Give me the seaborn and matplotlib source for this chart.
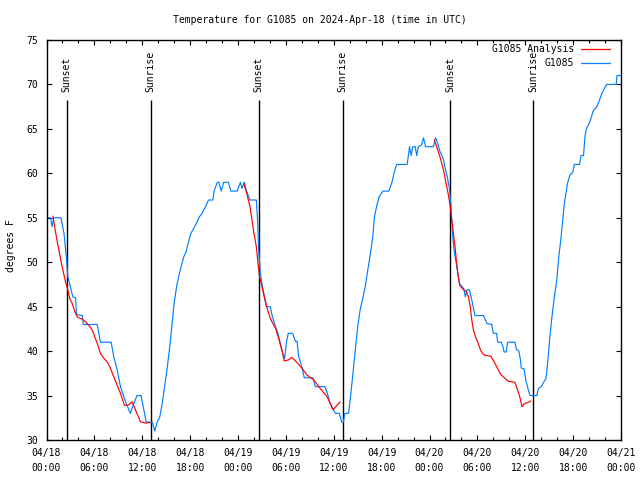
import matplotlib
matplotlib.use("Agg")
import matplotlib.pyplot as plt
import matplotlib.dates as mdates
from matplotlib.lines import Line2D
import seaborn as sns
import pandas as pd
import numpy as np

# ---------------- data ----------------
title = "Temperature for G1085 on 2024-Apr-18 (time in UTC)"
ylabel = "degrees F"
start = "2024-04-18 00:00"

# observed G1085 (hours since start, degrees F)
obs_hours = [0.0, 0.5, 0.7, 0.9, 1.8, 2.2, 2.5, 2.67, 3.0, 3.3, 3.65, 3.76, 4.5, 4.6, 6.35, 6.76,
             8.1, 8.43, 8.85, 9.27, 9.68, 10.0, 10.5, 10.9, 11.35, 11.85, 12.2, 12.5, 13.27, 13.57,
             13.86, 14.2, 14.5, 14.8, 15.1, 15.45, 15.7, 16.0, 16.3, 16.57, 16.87, 17.2, 17.5, 17.8,
             18.1, 18.45, 18.8, 19.15, 19.5, 19.9, 20.3, 20.85, 21.0, 21.4, 21.6, 21.9, 22.2, 22.8,
             23.1, 23.9, 24.3, 24.5, 24.8, 25.0, 25.5, 26.3, 26.45, 26.6, 26.8, 27.0, 27.3, 27.55,
             28.05, 28.3, 28.7, 29.0, 29.3, 29.6, 29.85, 30.05, 30.3, 30.85, 31.2, 31.4, 31.6, 32.0,
             32.3, 33.4, 33.7, 34.9, 35.2, 35.56, 35.85, 36.2, 36.7, 37.0, 37.2, 37.4, 37.86, 38.15,
             38.4, 38.7, 39.0, 39.3, 39.66, 39.95, 40.2, 40.6, 40.9, 41.1, 41.4, 41.7, 42.16, 42.9,
             43.3, 43.6, 43.9, 45.2, 45.5, 45.7, 45.9, 46.2, 46.4, 46.6, 47.0, 47.25, 47.5, 48.5,
             48.75, 48.95, 49.3, 49.7, 49.96, 50.25, 50.5, 50.7, 50.8, 50.9, 51.1, 51.35, 51.6, 51.75,
             52.05, 52.3, 52.5, 52.7, 53.0, 53.3, 53.7, 54.76, 55.2, 55.8, 56.0, 56.4, 56.55, 57.0,
             57.2, 57.35, 57.6, 57.8, 58.7, 58.9, 59.2, 59.4, 59.5, 59.85, 60.1, 60.4, 60.6, 61.45,
             61.65, 62.0, 62.3, 62.6, 62.8, 63.05, 63.3, 63.65, 63.95, 64.2, 64.45, 64.7, 64.9, 65.1,
             65.3, 65.6, 65.95, 66.15, 66.8, 67.0, 67.3, 67.5, 67.7, 68.0, 68.25, 68.5, 68.96, 69.25,
             69.6, 70.2, 71.4, 71.5, 72.0]
obs_temps = [55, 55, 54, 55, 55, 53.2, 50.4, 48.4, 47.2, 46.1, 46, 44.1, 44, 43, 43, 41,
             41, 39.4, 37.9, 36, 34.9, 34.1, 33, 34, 35, 35, 33.4, 32, 32, 31,
             32, 32.6, 34.1, 36, 37.9, 40.5, 42.75, 45.4, 47.25, 48.4, 49.5, 50.6, 51.2, 52.3,
             53.25, 53.8, 54.4, 55.1, 55.5, 56.2, 57, 57, 58, 59, 59, 58, 59, 59,
             58, 58, 59, 58.3, 59, 58.2, 57, 57, 54.75, 51.2, 48.75, 47.6, 46.1, 45,
             45, 43.9, 42.75, 42, 40.9, 39.75, 39.2, 40.9, 42, 42, 41.1, 41.1, 39.4, 38.25,
             37, 37, 36, 36, 35.25, 34.1, 33.6, 33, 33, 32, 32, 33, 33, 35.25,
             37.5, 40.1, 42.75, 44.6, 46.1, 47.25, 48.75, 51, 52.9, 55.1, 56.4, 57.4, 58, 58,
             59, 60.2, 61, 61, 63, 62, 63, 63, 62, 63, 63.2, 64, 63, 63,
             64, 63.6, 62.5, 61.7, 60.6, 59.5, 58.3, 56.25, 54.4, 53, 51.2, 49.9, 48.5, 47.6,
             47.3, 47, 46.1, 46.9, 46.9, 45.75, 44, 44, 43.1, 43, 42, 42, 41, 41,
             40.5, 39.9, 39.9, 41, 41, 40.2, 40, 39, 38.1, 38, 36.6, 35.6, 35, 35,
             35.8, 36, 36.5, 36.9, 38.6, 41.25, 43.5, 46.1, 48, 50.6, 52.5, 54.75, 56.6, 57.75,
             58.9, 59.8, 60.1, 61, 61, 62, 62, 64.3, 65.1, 65.6, 66.2, 67, 67.5, 68.1,
             69, 70, 70, 71, 71]

# analysis G1085 (three overnight segments)
ana_seg = [1] * 30 + [2] * 29 + [3] * 36
ana_hours = [0.8, 1.13, 1.54, 1.96, 2.38, 2.67, 2.92, 3.2, 3.63, 3.92, 4.47, 4.88, 5.3, 5.72, 6.05,
             6.35, 6.76, 7.18, 7.6, 8.0, 8.43, 8.85, 9.27, 9.77, 10.2, 10.73, 11.14, 11.77, 12.5, 13.0,
             24.7, 25.1, 25.5, 25.75, 26.0, 26.3, 26.5, 26.7, 27.0, 27.3, 27.6, 27.96, 28.25, 28.7,
             29.1, 29.5, 29.8, 30.3, 30.75, 31.4, 32.0, 32.65, 33.5, 34.3, 35.15, 35.56, 35.9, 36.4, 36.8,
             48.6, 48.9, 49.3, 49.75, 50.1, 50.4, 50.6, 50.8, 51.0, 51.2, 51.4, 51.6, 51.8, 52.16,
             52.6, 52.9, 53.1, 53.3, 53.5, 53.85, 54.1, 54.4, 54.76, 55.7, 56.1, 56.5, 56.9, 57.5,
             57.9, 58.7, 58.9, 59.3, 59.6, 59.9, 60.3, 60.7]
ana_temps = [55.2, 53.4, 51.4, 49.5, 47.8, 46.9, 45.9, 45.4, 44.25, 43.8, 43.6, 43.3, 42.9, 42.4, 41.6,
             40.9, 39.75, 39.2, 38.8, 38.1, 37.1, 36.2, 35.25, 33.9, 33.9, 34.3, 33.4, 32.05, 31.9, 32,
             58.9, 57.75, 56.25, 54.75, 53.25, 51.75, 49.9, 48.4, 47.25, 46.1, 45, 43.9, 43.3, 42.6,
             41.4, 40.1, 38.9, 39.0, 39.3, 38.7, 38.1, 37.3, 36.75, 35.8, 34.9, 34.1, 33.4, 33.9, 34.3,
             63.75, 63.0, 61.9, 60.4, 58.8, 57.4, 56.25, 54.75, 53.25, 51.75, 49.9, 48.4, 47.4, 47.0,
             46.7, 46.1, 45.0, 43.5, 42.4, 41.4, 40.9, 40.1, 39.6, 39.4, 38.8, 38.1, 37.4, 36.9,
             36.6, 36.5, 36.0, 34.9, 33.75, 34.1, 34.2, 34.4]

sun_labels = ["Sunset", "Sunrise", "Sunset", "Sunrise", "Sunset", "Sunrise"]
sun_hours = [2.55, 13.05, 26.6, 37.1, 50.6, 61.0]

series_names = ["G1085 Analysis", "G1085"]
series_colors = ["#ff0000", "#0080ff"]

# ---------------- plot ----------------
sns.set_style("ticks")
plt.rcParams["font.family"] = ["DejaVu Sans Mono", "DejaVu Sans"]
plt.rcParams["font.size"] = 7
plt.rcParams["text.color"] = "black"
plt.rcParams["xtick.color"] = "black"
plt.rcParams["ytick.color"] = "black"

base = pd.Timestamp(start)
obs = pd.DataFrame({"time": base + pd.to_timedelta(obs_hours, unit="h"), "temp": obs_temps})
ana = pd.DataFrame({"time": base + pd.to_timedelta(ana_hours, unit="h"), "temp": ana_temps,
                    "seg": ana_seg})

fig = plt.figure(figsize=(6.4, 4.8), dpi=100)
ax = fig.add_axes([46.5 / 640, (480 - 440) / 480, (621 - 46.5) / 640, 400 / 480])

# sunrise / sunset markers
sun_times = [mdates.date2num((base + pd.Timedelta(hours=h)).to_pydatetime()) for h in sun_hours]
ax.vlines(sun_times, 30, 68.3, color="black", lw=1.0, zorder=1)
for t, lab in zip(sun_times, sun_labels):
    ax.text(t, 69.2, lab, rotation=90, ha="center", va="bottom", fontsize=7)

sns.lineplot(data=ana, x="time", y="temp", units="seg", estimator=None, color=series_colors[0],
             lw=0.85, ax=ax, legend=False, sort=False, zorder=3)
sns.lineplot(data=obs, x="time", y="temp", estimator=None, color=series_colors[1],
             lw=0.85, ax=ax, legend=False, sort=False, zorder=2)

ax.set_xlim(mdates.date2num(base.to_pydatetime()),
            mdates.date2num((base + pd.Timedelta(hours=72)).to_pydatetime()))
ax.set_ylim(30, 75)
ax.set_yticks(np.arange(30, 76, 5))
ax.xaxis.set_major_locator(mdates.HourLocator(byhour=[0, 6, 12, 18]))
ax.xaxis.set_minor_locator(mdates.HourLocator(byhour=range(0, 24, 2)))
ax.xaxis.set_major_formatter(mdates.DateFormatter("%m/%d\n%H:%M"))
ax.tick_params(which="both", direction="in", top=True, right=True, labelsize=7)
ax.tick_params(axis="x", which="major", pad=6)
ax.tick_params(axis="y", which="major", pad=6)
ax.tick_params(which="major", length=3.5, width=0.8)
ax.tick_params(which="minor", length=2.5, width=0.8)
for s in ax.spines.values():
    s.set_color("black")
    s.set_linewidth(1.0)
ax.set_xlabel("")
ax.set_ylabel("")

fig.canvas.draw()
for lbl in ax.get_xticklabels():
    lbl.set_linespacing(1.55)

fig.text(0.5, 1 - 20 / 480, title, ha="center", va="center", fontsize=7)
fig.text(11 / 640, 1 - 246 / 480, ylabel, rotation=90, ha="center", va="center", fontsize=7)

handles = [Line2D([], [], color=c, lw=0.9) for c in series_colors]
ax.legend(handles, series_names, loc="upper right", bbox_to_anchor=(0.981, 0.99),
          frameon=False, markerfirst=False, borderaxespad=0, borderpad=0,
          handlelength=3.0, handletextpad=0.7, labelspacing=0.45, fontsize=7)

fig.savefig("out.png", dpi=100)
